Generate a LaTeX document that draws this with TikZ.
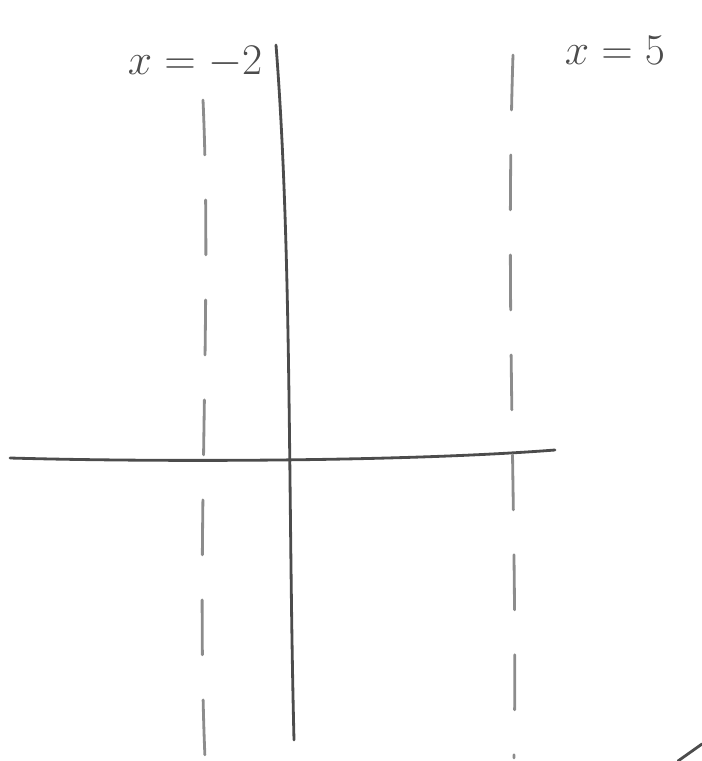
\documentclass[tikz,border=0pt]{standalone}
\usepackage{tikz}

\tikzset{
    pencil/.style={line width=1.6pt, gray!60!black, line cap=round},
    guide/.style={pencil, gray!90, dash pattern=on 1.1cm off 0.9cm},
    handlabel/.style={text=gray!60!black, font=\fontsize{30}{32}\selectfont}
}

\begin{document}
\begin{tikzpicture}[x=0.02cm, y=-0.02cm]
    % Fix the frame of the sketch
    \useasboundingbox (0,0) rectangle (702,761);

    % Define the ends of the axes
    \coordinate (Xl) at (10,458);   % Left end of the x axis
    \coordinate (Xr) at (555,450);  % Right end of the x axis
    \coordinate (Yt) at (276,45);   % Top of the y axis
    \coordinate (Yb) at (294,740);  % Bottom of the y axis

    % Define the ends of the vertical asymptotes
    \coordinate (At) at (203,100);  % x = -2, top
    \coordinate (Ab) at (205,758);  % x = -2, bottom
    \coordinate (Bt) at (513,55);   % x = 5, top
    \coordinate (Bb) at (514,758);  % x = 5, bottom

    % Draw the axes
    \draw[pencil] (Xl) .. controls (150,462) and (400,462) .. (Xr);
    \draw[pencil] (Yt) .. controls (292,250) and (288,500) .. (Yb);

    % Draw the dashed vertical lines
    \draw[guide] (At) .. controls (212,300) and (196,550) .. (Ab);
    \draw[guide] (Bt) .. controls (505,300) and (518,550) .. (Bb);

    % Label the vertical lines
    \node[handlabel] (La) at (195,62) {$x=-2$};
    \node[handlabel] (Lb) at (615,50) {$x=5$};

    % Stray stroke in the corner
    \coordinate (S1) at (678,761);
    \coordinate (S2) at (702,744);
    \draw[pencil] (S1) -- (S2);
\end{tikzpicture}
\end{document}
